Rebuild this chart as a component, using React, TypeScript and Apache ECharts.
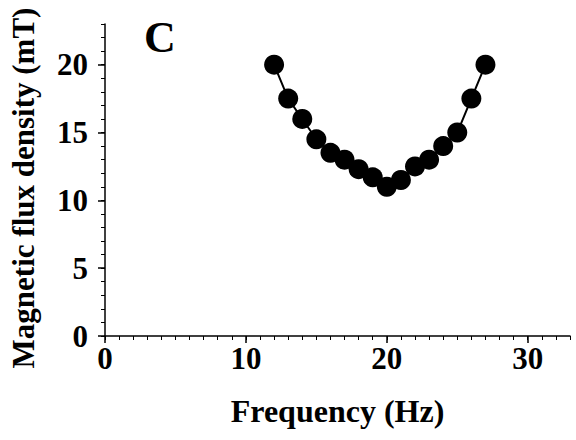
import React, { useEffect, useRef } from "react";
import * as echarts from "echarts";

const frequency = [12, 13, 14, 15, 16, 17, 18, 19, 20, 21, 22, 23, 24, 25, 26, 27];
const fluxDensity = [20, 17.5, 16, 14.5, 13.5, 13, 12.3, 11.7, 11, 11.5, 12.5, 13, 14, 15, 17.5, 20];
const xMajorTicks = [0, 10, 20, 30];
const yMajorTicks = [0, 5, 10, 15, 20];
const xMinorTicks = Array.from({ length: 34 }, (_, i) => i);
const yMinorTicks = Array.from({ length: 24 }, (_, i) => i);

const FONT = "'Liberation Serif', 'Times New Roman', serif";

export default function App() {
  const ref = useRef<HTMLDivElement>(null);
  useEffect(() => {
    if (!ref.current) return;
    const chart = echarts.init(ref.current, undefined, { renderer: "svg" });
    const labelStyle = { color: "#000", fontFamily: FONT, fontWeight: "bold" as const, fontSize: 31 };
    chart.setOption({
      animation: false,
      backgroundColor: "#fff",
      grid: { left: 105, right: 6, top: 24, bottom: 104, containLabel: false, outerBoundsMode: "none" },
      graphic: [
        {
          type: "text",
          left: 144,
          top: 15,
          style: { text: "C", fontFamily: FONT, fontWeight: "bold", fontSize: 44, fill: "#000" },
        },
      ],
      xAxis: [
        {
          type: "value",
          min: 0,
          max: 33,
          position: "bottom",
          name: "Frequency (Hz)",
          nameLocation: "middle",
          nameGap: 59,
          nameTextStyle: { color: "#000", fontFamily: FONT, fontWeight: "bold", fontSize: 32 },
          axisLine: { show: true, lineStyle: { color: "#000", width: 1.5 } },
          axisTick: { show: true, customValues: xMajorTicks, length: 7, lineStyle: { color: "#000", width: 1.5 } },
          axisLabel: { ...labelStyle, customValues: xMajorTicks, margin: 7 },
          splitLine: { show: false },
        },
        {
          type: "value",
          min: 0,
          max: 33,
          position: "bottom",
          axisLine: { show: false },
          axisTick: { show: true, customValues: xMinorTicks, length: 4, lineStyle: { color: "#000", width: 1 } },
          axisLabel: { show: false },
          splitLine: { show: false },
        },
      ],
      yAxis: [
        {
          type: "value",
          min: 0,
          max: 23,
          position: "left",
          name: "Magnetic flux density (mT)",
          nameLocation: "middle",
          nameGap: 66,
          nameTextStyle: {
            color: "#000",
            fontFamily: FONT,
            fontWeight: "bold",
            fontSize: 31,
            padding: [0, 16, 0, 0],
          },
          axisLine: { show: true, lineStyle: { color: "#000", width: 1.5 } },
          axisTick: { show: true, customValues: yMajorTicks, length: 7, lineStyle: { color: "#000", width: 1.5 } },
          axisLabel: { ...labelStyle, customValues: yMajorTicks, margin: 17 },
          splitLine: { show: false },
        },
        {
          type: "value",
          min: 0,
          max: 23,
          position: "left",
          axisLine: { show: false },
          axisTick: { show: true, customValues: yMinorTicks, length: 4, lineStyle: { color: "#000", width: 1 } },
          axisLabel: { show: false },
          splitLine: { show: false },
        },
      ],
      series: [
        {
          type: "line",
          xAxisIndex: 0,
          yAxisIndex: 0,
          data: frequency.map((f, i) => [f, fluxDensity[i]]),
          symbol: "circle",
          symbolSize: 20,
          lineStyle: { color: "#000", width: 2 },
          itemStyle: { color: "#000" },
        },
      ],
    });
    return () => chart.dispose();
  }, []);
  return <div ref={ref} style={{ position: "absolute", left: 0, top: 0, width: 576, height: 440 }} />;
}
